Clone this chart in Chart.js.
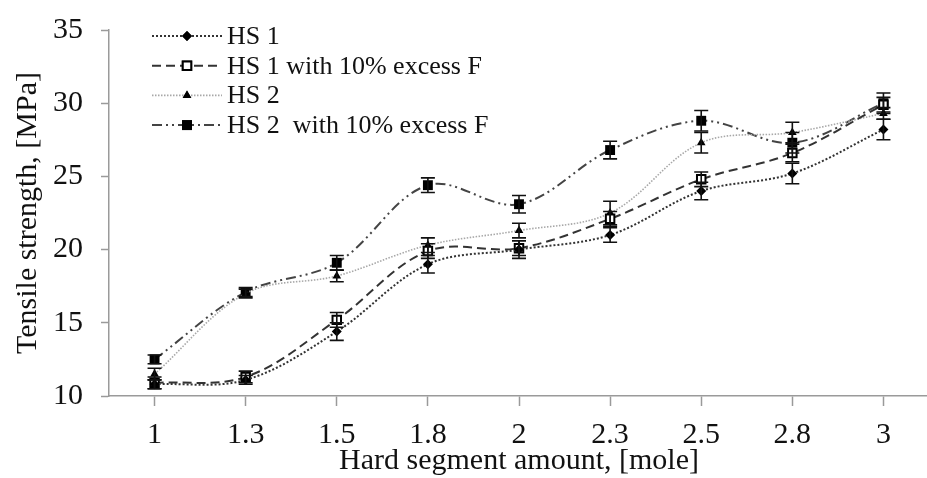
<!DOCTYPE html>
<html>
<head>
<meta charset="utf-8">
<title>Tensile strength vs hard segment amount</title>
<script src="https://cdn.jsdelivr.net/npm/chart.js@4.4.0/dist/chart.umd.min.js"></script>
<style>
  html, body { margin: 0; padding: 0; background: #fff; overflow: hidden; }
  #wrap { position: relative; width: 937px; height: 478px; }
</style>
</head>
<body>
<div id="wrap"><canvas id="myChart"></canvas></div>
<script>
const hardSegment = ['1', '1.3', '1.5', '1.8', '2', '2.3', '2.5', '2.8', '3'];
const yTicks = [10, 15, 20, 25, 30, 35];

// tensile strength, MPa
const hs1 = [10.8, 11.1, 14.4, 19.0, 20.0, 21.0, 24.0, 25.2, 28.2];
const hs1Excess = [10.9, 11.3, 15.2, 19.9, 20.1, 22.1, 24.8, 26.6, 29.9];
const hs2 = [11.5, 17.0, 18.2, 20.3, 21.3, 22.5, 27.3, 28.0, 29.3];
const hs2Excess = [12.5, 17.1, 19.1, 24.4, 23.1, 26.8, 28.8, 27.3, 30.0];

// standard deviations
const hs1Err = [0.3, 0.3, 0.6, 0.6, 0.6, 0.5, 0.6, 0.7, 0.7];
const hs1ExcessErr = [0.4, 0.4, 0.5, 0.5, 0.5, 0.5, 0.5, 0.6, 0.5];
const hs2Err = [0.4, 0.3, 0.4, 0.5, 0.5, 0.8, 0.7, 0.7, 0.4];
const hs2ExcessErr = [0.3, 0.3, 0.5, 0.5, 0.6, 0.6, 0.7, 0.7, 0.7];

(() => {
  'use strict'

  const serif = '"Liberation Serif", "Times New Roman", serif';
  const axisGray = '#9a9a9a';

  // vertical error bars with caps
  const errorBars = {
    id: 'errorBars',
    afterDatasetsDraw(chart) {
      const ctx = chart.ctx;
      const y = chart.scales.y;
      ctx.save();
      ctx.strokeStyle = '#111';
      ctx.lineWidth = 1.6;
      ctx.setLineDash([]);
      chart.data.datasets.forEach((ds, i) => {
        chart.getDatasetMeta(i).data.forEach((pt, j) => {
          const top = y.getPixelForValue(ds.data[j] + ds.errors[j]);
          const bot = y.getPixelForValue(ds.data[j] - ds.errors[j]);
          ctx.beginPath();
          ctx.moveTo(pt.x, top); ctx.lineTo(pt.x, bot);
          ctx.moveTo(pt.x - 7, top); ctx.lineTo(pt.x + 7, top);
          ctx.moveTo(pt.x - 7, bot); ctx.lineTo(pt.x + 7, bot);
          ctx.stroke();
        });
      });
      ctx.restore();
    }
  };

  // legend in the upper left, line sample with the marker in the middle
  const sampleLegend = {
    id: 'sampleLegend',
    afterDraw(chart) {
      const ctx = chart.ctx;
      ctx.save();
      chart.data.datasets.forEach((ds, i) => {
        const yy = 36 + i * 29.7;
        ctx.strokeStyle = ds.borderColor;
        ctx.lineWidth = ds.borderWidth;
        ctx.setLineDash(ds.borderDash || []);
        ctx.beginPath();
        ctx.moveTo(152, yy);
        ctx.lineTo(222, yy);
        ctx.stroke();
        ctx.setLineDash([]);
        Chart.helpers.drawPoint(ctx, {
          pointStyle: ds.pointStyle,
          radius: ds.pointRadius,
          rotation: 0,
          borderWidth: ds.pointBorderWidth
        }, 187, yy);
        ctx.fillStyle = ds.pointBackgroundColor;
        ctx.strokeStyle = ds.pointBorderColor;
        ctx.lineWidth = ds.pointBorderWidth;
        ctx.fill();
        if (ds.pointBorderWidth > 0) ctx.stroke();
        ctx.fillStyle = '#111';
        ctx.font = '26px ' + serif;
        ctx.textBaseline = 'middle';
        ctx.textAlign = 'left';
        ctx.fillText(ds.label, 227, yy + 1);
      });
      ctx.restore();
    }
  };

  const ctx = document.getElementById('myChart');
  // eslint-disable-next-line no-unused-vars
  const myChart = new Chart(ctx, {
    type: 'line',
    data: {
      labels: hardSegment,
      datasets: [{
        label: 'HS 1',
        data: hs1,
        errors: hs1Err,
        borderColor: '#333',
        borderWidth: 2,
        borderDash: [2, 2],
        pointStyle: 'rectRot',
        pointRadius: 5,
        pointBackgroundColor: '#000',
        pointBorderColor: '#000',
        pointBorderWidth: 0
      }, {
        label: 'HS 1 with 10% excess F',
        data: hs1Excess,
        errors: hs1ExcessErr,
        borderColor: '#333',
        borderWidth: 2,
        borderDash: [9, 5],
        pointStyle: 'rect',
        pointRadius: 6,
        pointBackgroundColor: '#fff',
        pointBorderColor: '#000',
        pointBorderWidth: 2
      }, {
        label: 'HS 2',
        data: hs2,
        errors: hs2Err,
        borderColor: '#a8a8a8',
        borderWidth: 1.6,
        borderDash: [1.5, 1.5],
        pointStyle: 'triangle',
        pointRadius: 5,
        pointBackgroundColor: '#000',
        pointBorderColor: '#000',
        pointBorderWidth: 0
      }, {
        label: 'HS 2  with 10% excess F',
        data: hs2Excess,
        errors: hs2ExcessErr,
        borderColor: '#444',
        borderWidth: 2,
        borderDash: [10, 4, 2, 4, 2, 4],
        pointStyle: 'rect',
        pointRadius: 7,
        pointBackgroundColor: '#000',
        pointBorderColor: '#000',
        pointBorderWidth: 0
      }]
    },
    options: {
      responsive: true,
      maintainAspectRatio: false,
      animation: false,
      layout: { padding: { top: 29, left: 0, right: 1, bottom: 0 } },
      elements: { line: { tension: 0.35, fill: false } },
      plugins: {
        legend: { display: false },
        tooltip: { enabled: false }
      },
      scales: {
        x: {
          offset: true,
          grid: { drawOnChartArea: false, color: axisGray, tickLength: 10, tickWidth: 1.5 },
          border: { color: axisGray, width: 1.5 },
          ticks: { color: '#111', padding: 11, font: { family: serif, size: 30, lineHeight: 1.2 } },
          title: {
            display: true,
            text: 'Hard segment amount, [mole]',
            color: '#111',
            padding: { top: 0, bottom: 0 },
            font: { family: serif, size: 30, lineHeight: 1.1 }
          },
          afterFit: (scale) => { scale.height = 82; }
        },
        y: {
          min: 10,
          max: 35,
          afterBuildTicks: (scale) => { scale.ticks = yTicks.map(v => ({ value: v })); },
          grid: { drawOnChartArea: false, color: axisGray, tickLength: 8, tickWidth: 1.5 },
          border: { color: axisGray, width: 1.5 },
          ticks: { color: '#111', padding: 18, font: { family: serif, size: 30, lineHeight: 0.8 } },
          title: {
            display: true,
            text: 'Tensile strength, [MPa]',
            color: '#111',
            padding: { top: 10, bottom: 0 },
            font: { family: serif, size: 30, lineHeight: 1.2 }
          },
          afterFit: (scale) => { scale.width = 109; }
        }
      }
    },
    plugins: [errorBars, sampleLegend]
  });
})();
</script>
</body>
</html>
